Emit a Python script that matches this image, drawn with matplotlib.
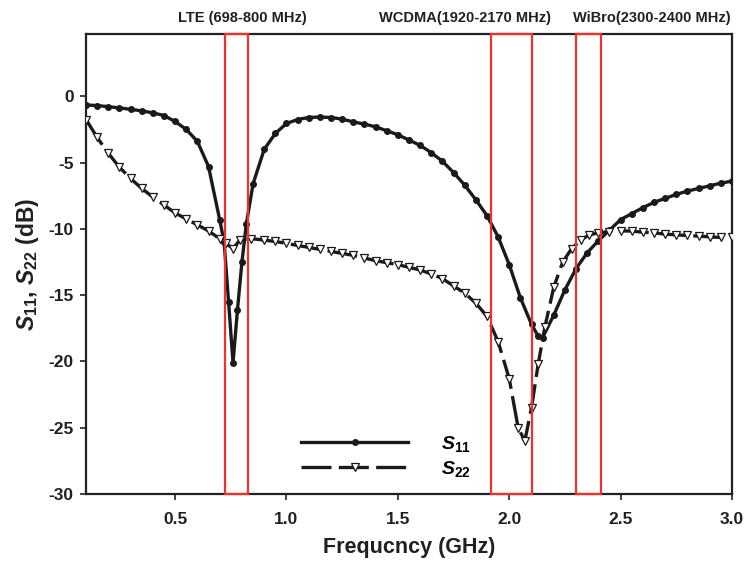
import matplotlib
matplotlib.use("Agg")
import matplotlib.pyplot as plt
import matplotlib.transforms as mtransforms

plt.rcParams['font.family'] = ['Liberation Sans', 'DejaVu Sans']
plt.rcParams['font.weight'] = 'bold'
plt.rcParams['mathtext.fontset'] = 'custom'
plt.rcParams['mathtext.rm'] = 'Liberation Sans:bold'
plt.rcParams['mathtext.it'] = 'Liberation Sans:bold:italic'
plt.rcParams['mathtext.bf'] = 'Liberation Sans:bold'

# ---- data ----
s11_freq = [0.10, 0.15, 0.20, 0.25, 0.30, 0.35, 0.40, 0.45, 0.50, 0.55, 0.60,
            0.65, 0.70, 0.72, 0.74, 0.76, 0.78, 0.80, 0.82, 0.85, 0.90, 0.95,
            1.00, 1.05, 1.10, 1.15, 1.20, 1.25, 1.30, 1.35, 1.40, 1.45, 1.50,
            1.55, 1.60, 1.65, 1.70, 1.75, 1.80, 1.85, 1.90, 1.95, 2.00, 2.05,
            2.10, 2.13, 2.15, 2.20, 2.25, 2.30, 2.35, 2.40, 2.45, 2.50, 2.55,
            2.60, 2.65, 2.70, 2.75, 2.80, 2.85, 2.90, 2.95, 3.00]
s11_db = [-0.65, -0.70, -0.78, -0.88, -0.98, -1.10, -1.25, -1.45, -1.90, -2.50, -3.40,
          -5.30, -9.30, -11.0, -15.5, -20.1, -16.1, -12.5, -9.60, -6.60, -4.00, -2.80,
          -2.05, -1.75, -1.60, -1.56, -1.60, -1.72, -1.93, -2.10, -2.30, -2.60, -2.90,
          -3.30, -3.70, -4.25, -4.90, -5.75, -6.70, -7.80, -9.00, -10.6, -12.7, -15.2,
          -17.2, -18.1, -18.2, -16.5, -14.6, -13.0, -11.8, -10.9, -10.1, -9.30, -8.85,
          -8.40, -8.00, -7.70, -7.40, -7.15, -6.95, -6.75, -6.55, -6.40]

s22_freq = [0.10, 0.15, 0.20, 0.25, 0.30, 0.35, 0.40, 0.45, 0.50, 0.55, 0.60,
            0.65, 0.70, 0.73, 0.76, 0.79, 0.84, 0.90, 0.95, 1.00, 1.05, 1.10,
            1.15, 1.20, 1.25, 1.30, 1.35, 1.40, 1.45, 1.50, 1.55, 1.60, 1.65,
            1.70, 1.75, 1.80, 1.85, 1.90, 1.95, 2.00, 2.04, 2.07, 2.10, 2.13,
            2.16, 2.20, 2.24, 2.28, 2.32, 2.36, 2.40, 2.45, 2.50, 2.55, 2.60,
            2.65, 2.70, 2.75, 2.80, 2.85, 2.90, 2.95, 3.00]
s22_db = [-1.75, -3.10, -4.30, -5.35, -6.20, -6.95, -7.60, -8.20, -8.80, -9.25, -9.70,
          -10.15, -10.75, -11.1, -11.5, -10.85, -10.73, -10.85, -10.95, -11.1, -11.25, -11.4,
          -11.55, -11.7, -11.85, -12.0, -12.2, -12.4, -12.55, -12.7, -12.9, -13.1, -13.4,
          -13.75, -14.3, -14.85, -15.6, -16.6, -18.5, -21.3, -25.0, -26.0, -23.5, -20.2,
          -17.4, -14.4, -12.5, -11.5, -10.85, -10.45, -10.3, -10.2, -10.15, -10.17, -10.25,
          -10.3, -10.4, -10.45, -10.5, -10.55, -10.6, -10.65, -10.65]

band_names = ['LTE (698-800 MHz)', 'WCDMA(1920-2170 MHz)', 'WiBro(2300-2400 MHz)']
band_lo = [0.725, 1.92, 2.30]
band_hi = [0.825, 2.10, 2.41]
band_label_x = [0.80, 1.80, 2.64]

xticks = [0.5, 1.0, 1.5, 2.0, 2.5, 3.0]
yticks = [-30, -25, -20, -15, -10, -5, 0]

TXT = '#231f20'

# ---- figure ----
fig = plt.figure(figsize=(7.46, 5.62), dpi=100)
ax = fig.add_axes([0.1153, 0.121, 0.8659, 0.8185])

ax.plot(s11_freq, s11_db, color='#1a1a1a', lw=2.4, marker='o', ms=4,
        mfc='#1a1a1a', mec='#1a1a1a', label=r'$S_{11}$', zorder=3)
ax.plot(s22_freq, s22_db, color='#1a1a1a', lw=2.4, dashes=(9, 2.2),
        marker='v', ms=6, mfc='white', mec='#1a1a1a', mew=0.9,
        label=r'$S_{22}$', zorder=4)

for lo, hi in zip(band_lo, band_hi):
    ax.add_patch(plt.Rectangle((lo, -30), hi - lo, 34.7, fill=False,
                               edgecolor='#e8332f', lw=1.6, zorder=5,
                               clip_on=False))

trans = mtransforms.blended_transform_factory(ax.transData, fig.transFigure)
for name, xc in zip(band_names, band_label_x):
    ax.text(xc, 1 - 18 / 562, name, transform=trans, ha='center', va='center',
            fontsize=10.5, fontweight='bold', color=TXT)

ax.set_xlim(0.1, 3.0)
ax.set_ylim(-30, 4.7)
ax.set_xticks(xticks)
ax.set_xticklabels([f'{t:.1f}' for t in xticks])
ax.set_yticks(yticks)
ax.set_yticklabels([str(t) for t in yticks])
ax.tick_params(axis='both', direction='out', length=4, width=1.2,
               labelsize=12.5, colors=TXT)
ax.tick_params(axis='x', pad=9)
ax.tick_params(axis='y', pad=5)
for lab in ax.get_xticklabels() + ax.get_yticklabels():
    lab.set_fontweight('bold')
for sp in ax.spines.values():
    sp.set_linewidth(1.6)
    sp.set_color('#222222')

ax.set_xlabel('Frequcncy (GHz)', fontsize=15.5, fontweight='bold', color=TXT, labelpad=7)
ax.set_ylabel(r'$S_{11}$, $S_{22}$ (dB)', fontsize=16.5, fontweight='bold', color=TXT, labelpad=5)

leg = ax.legend(loc='upper left', bbox_to_anchor=(0.318, 0.152), frameon=False,
                handlelength=5.5, handletextpad=1.7, fontsize=14,
                labelspacing=0.25, borderpad=0, numpoints=1)

fig.savefig('out.png', dpi=100)
